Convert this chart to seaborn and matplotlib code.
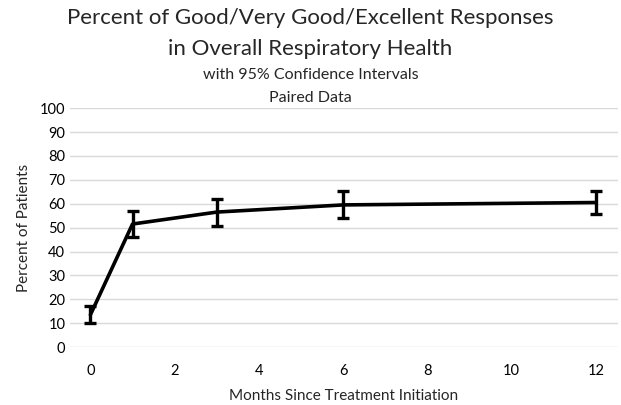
import numpy as np
import pandas as pd
import matplotlib
matplotlib.use("Agg")
import matplotlib.pyplot as plt
import seaborn as sns

months = [0, 1, 3, 6, 12]
pct_good = [13.5, 51.5, 56.5, 59.5, 60.5]
ci_low = [10.0, 46.0, 50.5, 54.0, 55.5]
ci_high = [17.0, 57.0, 62.0, 65.5, 65.5]

df = pd.DataFrame({'MONTHS': months, 'PCT': pct_good, 'LO': ci_low, 'HI': ci_high})

sns.set_theme(style="white")
plt.rcParams['font.family'] = ['Lato', 'DejaVu Sans']

fig = plt.figure(figsize=(6.21, 4.05), dpi=100)
ax = fig.add_axes([0.113, 0.143, 0.882, 0.59])

sns.lineplot(data=df, x='MONTHS', y='PCT', color='black', linewidth=2.6, ax=ax)
ax.errorbar(
    df['MONTHS'], df['PCT'],
    yerr=[df['PCT'] - df['LO'], df['HI'] - df['PCT']],
    fmt='none', ecolor='black', elinewidth=2.4, capsize=4.5, capthick=2.4, zorder=3
)

ax.set_xlim(-0.48, 12.52)
ax.set_ylim(0, 100)
ax.set_xticks(range(0, 13, 2))
ax.set_yticks(range(0, 101, 10))
ax.yaxis.grid(True, color='#d9d9d9', linewidth=1)
ax.xaxis.grid(False)
for s in ax.spines.values():
    s.set_visible(False)
ax.tick_params(axis='both', length=0, labelsize=10.5, colors='black')
ax.tick_params(axis='x', pad=12)

ax.set_xlabel("Months Since Treatment Initiation", fontsize=11, labelpad=8)
ax.set_ylabel("Percent of Patients", fontsize=11, labelpad=6)

fig.text(0.5, 0.955, "Percent of Good/Very Good/Excellent Responses", ha='center', va='center', fontsize=16)
fig.text(0.5, 0.88, "in Overall Respiratory Health", ha='center', va='center', fontsize=16)
fig.text(0.5, 0.815, "with 95% Confidence Intervals", ha='center', va='center', fontsize=11.5)
fig.text(0.5, 0.758, "Paired Data", ha='center', va='center', fontsize=11.5)

fig.savefig('out.png', dpi=100)
